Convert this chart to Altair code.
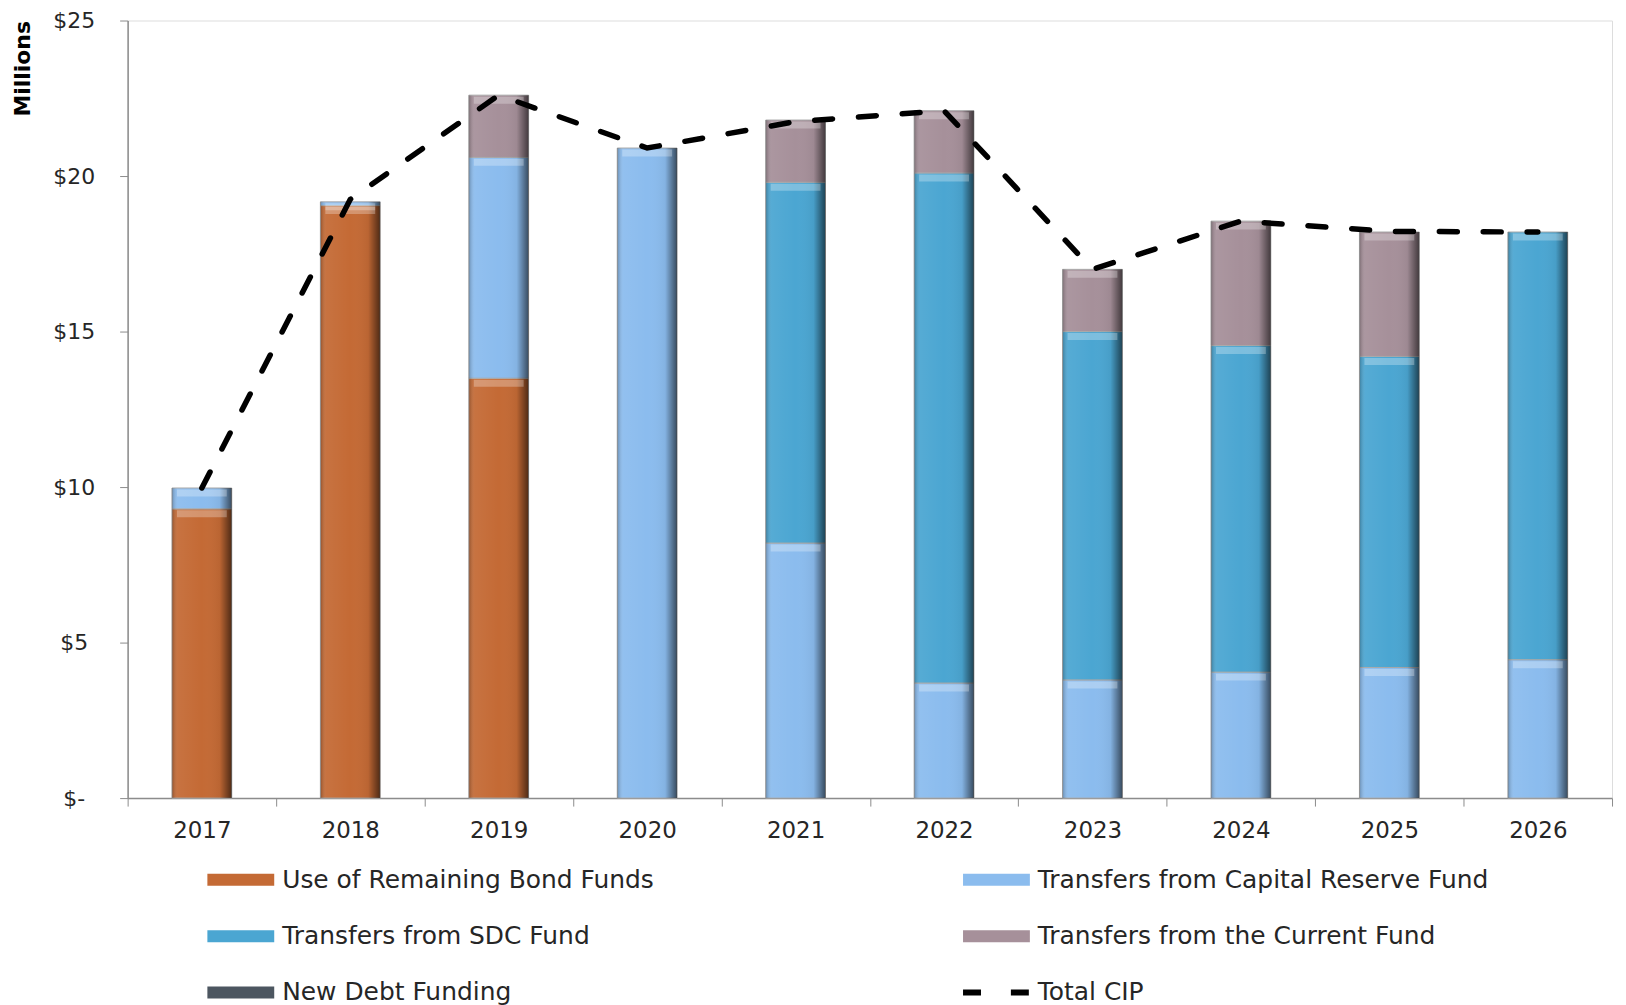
import altair as alt
import pandas as pd

years = ["2017", "2018", "2019", "2020", "2021", "2022", "2023", "2024", "2025", "2026"]
series_names = [
    "Use of Remaining Bond Funds",
    "Transfers from Capital Reserve Fund",
    "Transfers from SDC Fund",
    "Transfers from the Current Fund",
    "New Debt Funding",
    "Total CIP",
]
series_colors = ["#C46A35", "#8BBCEE", "#4BA6D2", "#A6909A", "#4C5660", "#000000"]

bond_funds = [9.3, 19.05, 13.5, 0, 0, 0, 0, 0, 0, 0]
capital_reserve = [0.67, 0.12, 7.1, 20.9, 8.2, 3.7, 3.8, 4.05, 4.2, 4.45]
sdc_fund = [0, 0, 0, 0, 11.6, 16.4, 11.2, 10.5, 10.0, 13.75]
current_fund = [0, 0, 2.0, 0, 2.0, 2.0, 2.0, 4.0, 4.0, 0]
new_debt = [0, 0, 0, 0, 0, 0, 0, 0, 0, 0]
total_cip = [9.97, 19.25, 22.6, 20.9, 21.75, 22.1, 17.0, 18.55, 18.22, 18.2]

y_ticks = [0, 5, 10, 15, 20, 25]

rows = []
for i, yr in enumerate(years):
    for k, vals in enumerate([bond_funds, capital_reserve, sdc_fund, current_fund, new_debt]):
        if vals[i] > 0:
            rows.append({"year": yr, "series": series_names[k], "value": vals[i], "stack_idx": k})
bars_df = pd.DataFrame(rows)
line_df = pd.DataFrame({"year": years, "total": total_cip})

FONT = "DejaVu Sans"

x_enc = alt.X(
    "year:N",
    sort=years,
    scale=alt.Scale(paddingInner=0, paddingOuter=0),
    axis=alt.Axis(
        title=None,
        labelAngle=0,
        labelFontSize=23,
        labelFont=FONT,
        labelColor="#262626",
        labelPadding=14,
        tickBand="extent",
        tickSize=8,
        tickColor="#8C8C8C",
        domainColor="#8C8C8C",
        domainWidth=1.5,
        grid=False,
    ),
)

y_enc = alt.Y(
    "value:Q",
    stack="zero",
    scale=alt.Scale(domain=[0, 25], nice=False),
    axis=alt.Axis(
        title="Millions",
        titleFont=FONT,
        titleFontSize=22,
        titleFontWeight="bold",
        titleColor="#000000",
        titleAnchor="end",
        titleAngle=270,
        titlePadding=18,
        values=y_ticks,
        labelExpr="datum.value == 0 ? '$-' : '$' + datum.value",
        labelFontSize=22,
        labelFont=FONT,
        labelColor="#262626",
        labelAlign="center",
        labelPadding=46,
        tickSize=8,
        tickColor="#8C8C8C",
        domainColor="#8C8C8C",
        domainWidth=1.5,
        grid=False,
    ),
)

# symbol box is 30px (size 900); paths reach past it so the legend rows stay compact
rect_path = "M-1,-0.4H3.47V0.4H-1Z"
dash_path = "M-1,-0.2H0.2V0.2H-1Z M2.2,-0.2H3.4V0.2H2.2Z"

bars = alt.Chart(bars_df).mark_bar(size=60, stroke="#A8A8A8", strokeWidth=1).encode(
    x=x_enc,
    y=y_enc,
    color=alt.Color(
        "series:N",
        scale=alt.Scale(domain=series_names, range=series_colors),
        legend=alt.Legend(
            title=None,
            orient="none",
            direction="horizontal",
            legendX=80,
            legendY=847,
            columns=2,
            columnPadding=309,
            rowPadding=28.5,
            padding=0,
            labelFont=FONT,
            labelFontSize=25,
            labelColor="#262626",
            labelLimit=600,
            labelOffset=45,
            symbolSize=900,
            symbolStrokeWidth=0,
            symbolType={"expr": f"datum.value === 'Total CIP' ? '{dash_path}' : '{rect_path}'"},
        ),
    ),
    order=alt.Order("stack_idx:Q", sort="ascending"),
)

shade = alt.Chart(bars_df).mark_bar(
    size=60,
    fill=alt.Gradient(
        gradient="linear",
        x1=0, x2=1, y1=0, y2=0,
        stops=[
            alt.GradientStop(color="rgba(0,0,0,0.25)", offset=0),
            alt.GradientStop(color="rgba(255,255,255,0.06)", offset=0.1),
            alt.GradientStop(color="rgba(255,255,255,0)", offset=0.5),
            alt.GradientStop(color="rgba(0,0,0,0.05)", offset=0.8),
            alt.GradientStop(color="rgba(0,0,0,0.6)", offset=1),
        ],
    ),
).encode(
    x=alt.X("year:N", sort=years),
    y=alt.Y("value:Q", stack="zero"),
    detail="series:N",
    order=alt.Order("stack_idx:Q", sort="ascending"),
)

# light bevel strip along the top of each segment
highlight = alt.Chart(bars_df).mark_tick(
    size=50, thickness=7, color="white", opacity=0.28, yOffset=5
).encode(
    x=alt.X("year:N", sort=years),
    y=alt.Y("value:Q", stack="zero"),
    detail="series:N",
    order=alt.Order("stack_idx:Q", sort="ascending"),
)

line = alt.Chart(line_df).mark_line(
    color="black", strokeWidth=5.5, strokeDash=[18, 26], strokeCap="round"
).encode(
    x=alt.X("year:N", sort=years),
    y=alt.Y("total:Q"),
)

chart = alt.layer(bars, shade, highlight, line).properties(
    width=1489,
    height=780,
    padding={"left": 4, "top": 0, "right": 5, "bottom": 5},
).configure_view(stroke=None).configure(background="white")

chart.save("out.html", embed_options={"renderer": "svg", "actions": False})
